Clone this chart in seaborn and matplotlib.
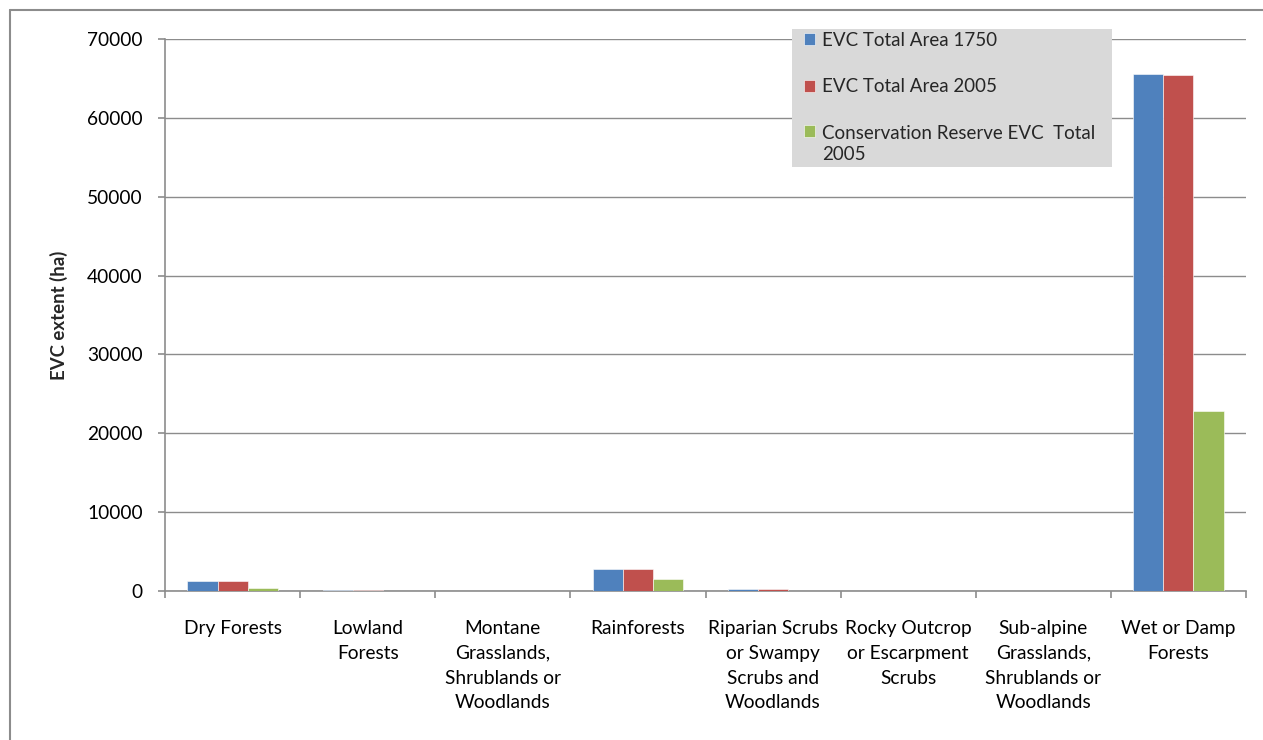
import matplotlib
matplotlib.use("Agg")
import matplotlib.pyplot as plt
from matplotlib.lines import Line2D
from matplotlib.patches import Rectangle
import numpy as np
import pandas as pd
import seaborn as sns

# Vegetation groups (x axis) and their extent in hectares
categories = [
    "Dry Forests",
    "Lowland\nForests",
    "Montane\nGrasslands,\nShrublands or\nWoodlands",
    "Rainforests",
    "Riparian Scrubs\nor Swampy\nScrubs and\nWoodlands",
    "Rocky Outcrop\nor Escarpment\nScrubs",
    "Sub-alpine\nGrasslands,\nShrublands or\nWoodlands",
    "Wet or Damp\nForests",
]
series_names = [
    "EVC Total Area 1750",
    "EVC Total Area 2005",
    "Conservation Reserve EVC  Total\n2005",
]
area_1750 = [1250, 130, 60, 2800, 250, 8, 8, 65550]
area_2005 = [1250, 120, 55, 2800, 240, 8, 8, 65450]
reserve_2005 = [350, 60, 15, 1500, 60, 4, 4, 22800]
y_ticks = [0, 10000, 20000, 30000, 40000, 50000, 60000, 70000]

colors = ["#4F81BD", "#C0504D", "#9BBB59"]
grid_grey = "#8C8C8C"
W, H = 1263, 740

df = pd.DataFrame({
    "category": np.repeat(categories, 3),
    "series": series_names * len(categories),
    "value": [v for trio in zip(area_1750, area_2005, reserve_2005) for v in trio],
})

sns.set_theme(style="white")
plt.rcParams["font.family"] = ["Lato", "DejaVu Sans"]

fig = plt.figure(figsize=(W / 100, H / 100), dpi=100)
ax = fig.add_axes([165 / W, 1 - 591 / H, (1246 - 165) / W, (591 - 39) / H])

sns.barplot(
    data=df, x="category", y="value", hue="series",
    order=categories, hue_order=series_names, palette=colors,
    width=0.667, gap=0, saturation=1, errorbar=None,
    edgecolor="white", linewidth=0.4, ax=ax, zorder=3,
)

ax.set_xlim(-0.5, len(categories) - 0.5)
ax.set_ylim(0, 70000)
ax.set_yticks(y_ticks)
ax.set_yticklabels([str(v) for v in y_ticks])
ax.yaxis.grid(True, color=grid_grey, linewidth=1.0, zorder=0)
ax.xaxis.grid(False)
ax.set_axisbelow(True)

for side in ["top", "right"]:
    ax.spines[side].set_visible(False)
for side in ["left", "bottom"]:
    ax.spines[side].set_color(grid_grey)
    ax.spines[side].set_linewidth(1.2)

# Category boundary ticks on the x axis
ax.set_xticks(np.arange(-0.5, len(categories) + 0.5, 1), minor=True)
ax.tick_params(axis="x", which="minor", length=5, width=1.2, color=grid_grey, bottom=True)
ax.tick_params(axis="x", which="major", length=0, pad=21, labelsize=13.8, labelcolor="black")
ax.tick_params(axis="y", which="major", length=5, width=1.2, color=grid_grey, left=True,
               pad=11, labelsize=13.8, labelcolor="black")
for lbl in ax.get_xticklabels():
    lbl.set_linespacing(1.55)
    lbl.set_ha("center")

ax.set_xlabel("")
ax.set_ylabel("EVC extent (ha)", fontsize=13.4, fontweight="bold", labelpad=14)

handles, labels = ax.get_legend_handles_labels()
ax.get_legend().remove()

# Grey legend panel
fig.add_artist(Rectangle((792 / W, 1 - 167 / H), 320 / W, 138 / H,
                         transform=fig.transFigure, facecolor="#D9D9D9",
                         edgecolor="none", zorder=4))
leg = fig.legend(
    handles, labels, loc="upper left",
    bbox_to_anchor=(804 / W, 1 - 32 / H), bbox_transform=fig.transFigure,
    frameon=False, fontsize=13.5, handlelength=0.6, handleheight=0.6,
    handletextpad=0.35, labelspacing=1.57, borderpad=0, borderaxespad=0,
)
leg.set_zorder(5)
for t in leg.get_texts():
    t.set_linespacing(1.32)
# keep the square of the two-line entry level with its first line
sq = leg.legend_handles[2]
sq.set_y(sq.get_y() + 10)

# Outer chart border (left and top edges)
fig.add_artist(Line2D([9.5 / W, 1.0], [1 - 9.5 / H] * 2, transform=fig.transFigure,
                      color=grid_grey, linewidth=1.5))
fig.add_artist(Line2D([9.5 / W] * 2, [0.0, 1 - 9.5 / H], transform=fig.transFigure,
                      color=grid_grey, linewidth=1.5))

fig.savefig("out.png", dpi=100, facecolor="white")
